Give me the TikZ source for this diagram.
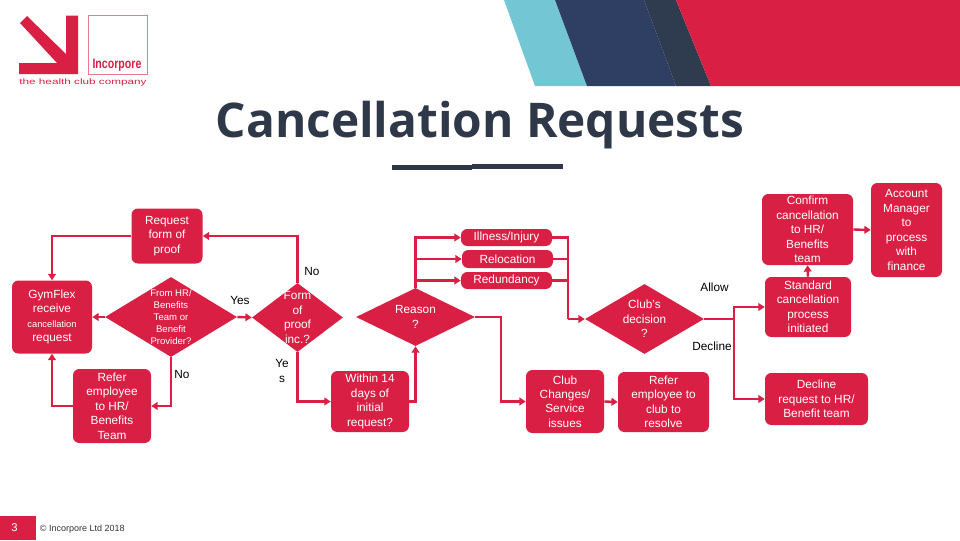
\documentclass[tikz,border=0pt]{standalone}
\usepackage{fontspec}
\setmainfont{Liberation Sans}
\newfontfamily\titlefont{Open Sans}
\usetikzlibrary{arrows.meta,shapes.geometric}
\definecolor{incred}{HTML}{D91F43}
\definecolor{incnavy}{HTML}{2E3F63}
\definecolor{incdark}{HTML}{2F3B4E}
\definecolor{incteal}{HTML}{73C6D4}
\definecolor{inctitle}{HTML}{2F3848}
\tikzset{
  boxnode/.style={draw=none,fill=incred,rounded corners=4.5pt,text=white,align=center,
    font=\fontsize{8.4}{10.3}\selectfont,inner sep=0pt},
  choicenode/.style={diamond,draw=none,fill=incred,text=white,align=center,
    font=\fontsize{8.4}{10.3}\selectfont,inner sep=-14pt,shape aspect=1.7},
  boxsize/.style 2 args={minimum width=#1*0.025cm,minimum height=#2*0.025cm},
  flowline/.style={draw=incred,line width=1.7pt,-{Triangle[length=4.5pt,width=5.5pt]}},
  plainline/.style={draw=incred,line width=1.7pt},
  edgetext/.style={font=\fontsize{8.4}{10.3}\selectfont,align=center,text=black}
}
\begin{document}
\begin{tikzpicture}[x=0.025cm,y=-0.025cm]
  \useasboundingbox (0,0) rectangle (960,540);
  % banner
  \fill[incteal] (504,0) -- (535,86) -- (587,86) -- (555,0) -- cycle;
  \fill[incnavy] (555,0) -- (587,86) -- (676,86) -- (644,0) -- cycle;
  \fill[incdark] (644,0) -- (676,86) -- (711,86) -- (676,0) -- cycle;
  \fill[incred] (676,0) -- (711,86) -- (960,86) -- (960,0) -- cycle;
  % logo
  \fill[incred] (66,15.5) -- (78,15.5) -- (78,74) -- (19,74) -- (19,63) -- (57,63) -- (20,23) -- (27,16) -- (66,54) -- cycle;
  \draw[incred!60,line width=0.5pt] (88.5,15.5) rectangle (147.5,74);
  \node[text=incred,font=\fontsize{9.8}{10}\selectfont\bfseries,xscale=0.77,transform shape] (logoname) at (117,65) {Incorpore};
  \node[text=incred,font=\fontsize{5.6}{6}\selectfont,xscale=1.49,transform shape] (logotag) at (83,82) {the health club company};
  % title
  \node[text=inctitle,font=\titlefont\fontsize{34}{38}\selectfont\bfseries] (title) at (480,125) {Cancellation Requests};
  \fill[inctitle] (392,165) rectangle (472,170);
  \fill[inctitle] (472,164) rectangle (563,169);
  % footer
  \fill[incred] (0,516) rectangle (36,540);
  \node[text=white,font=\fontsize{8}{10}\selectfont] (pagenum) at (14.5,528) {3};
  \node[anchor=west,font=\fontsize{6.4}{8}\selectfont,text=black!80] (copyline) at (35,529) {© Incorpore Ltd 2018};
  % boxes
  \node[boxnode,boxsize={71}{55}] (request) at (167,236) {Request\\form of\\proof};
  \node[boxnode,boxsize={80}{73}] (gymflex) at (52,317) {GymFlex\\receive\\{\fontsize{6.6}{10.3}\selectfont cancellation}\\request};
  \node[choicenode,boxsize={132}{80},font=\fontsize{6.8}{8.5}\selectfont] (fromhr) at (171,317) {From HR/\\Benefits\\Team or\\Benefit\\Provider?};
  \node[boxnode,boxsize={78}{74}] (referhr) at (112,406) {Refer\\employee\\to HR/\\Benefits\\Team};
  \node[choicenode,boxsize={91}{69}] (formproof) at (297.5,317.5) {Form\\of\\proof\\inc.?};
  \node[boxnode,boxsize={78}{61}] (within) at (370,401.5) {Within 14\\days of\\initial\\request?};
  \node[choicenode,boxsize={119}{58}] (reason) at (415.5,317) {Reason\\?};
  \node[boxnode,boxsize={91}{17}] (illness) at (506.5,237.5) {Illness/Injury};
  \node[boxnode,boxsize={91}{18}] (relocation) at (507.5,259) {Relocation};
  \node[boxnode,boxsize={91}{17}] (redundancy) at (506.5,280.5) {Redundancy};
  \node[boxnode,boxsize={78}{63}] (clubissues) at (565,401.5) {Club\\Changes/\\Service\\issues};
  \node[choicenode,boxsize={119}{70}] (decision) at (644.5,319) {Club's\\decision\\?};
  \node[boxnode,boxsize={91}{60}] (referclub) at (663.5,402) {Refer\\employee to\\club to\\resolve};
  \node[boxnode,boxsize={86}{60}] (standard) at (808,307) {Standard\\cancellation\\process\\initiated};
  \node[boxnode,boxsize={91}{71}] (confirm) at (807.5,229.5) {Confirm\\cancellation\\to HR/\\Benefits\\team};
  \node[boxnode,boxsize={71}{94}] (account) at (906.5,230) {Account\\Manager\\to\\process\\with\\finance};
  \node[boxnode,boxsize={103}{52}] (decline) at (816.5,399) {Decline\\request to HR/\\Benefit team};
  % free corners
  \coordinate (split) at (734,319);
  \coordinate (merge) at (568,319);
  \coordinate (reasonturn) at (501,317);
  % connectors
  \draw[flowline] (request.west) -| (gymflex.north);
  \draw[flowline] (formproof.north) |- (request.east);
  \draw[flowline] (fromhr.west) -- (gymflex.east);
  \draw[flowline] (fromhr.east) -- (formproof.west);
  \draw[flowline] (fromhr.south) |- (referhr.east);
  \draw[flowline] (referhr.west) -| (gymflex.south);
  \draw[flowline] (formproof.south) |- (within.west);
  \draw[flowline] (within.east) -| (reason.south);
  \draw[flowline] (reason.north) |- (illness.west);
  \draw[flowline] (reason.north) |- (relocation.west);
  \draw[flowline] (reason.north) |- (redundancy.west);
  \draw[plainline] (illness.east) -| (merge);
  \draw[plainline] (relocation.east) -| (merge);
  \draw[plainline] (redundancy.east) -| (merge);
  \draw[flowline] (merge) -- (decision.west);
  \draw[flowline] (reason.east) -- (reasonturn) |- (clubissues.west);
  \draw[flowline] (clubissues.east) -- (referclub.west);
  \draw[plainline] (decision.east) -- (split);
  \draw[flowline] (split) |- (standard.west);
  \draw[flowline] (split) |- (decline.west);
  \draw[flowline] (standard.north) -- (confirm.south);
  \draw[flowline] (confirm.east) -- (account.west);
  % labels
  \node[edgetext] (labelnoa) at (312,271) {No};
  \node[edgetext] (labelyes) at (240,300.5) {Yes};
  \node[edgetext] (labelnob) at (182,374) {No};
  \node[edgetext] (labelyeb) at (282,371) {Ye\\s};
  \node[edgetext] (labelallow) at (714.5,287.5) {Allow};
  \node[edgetext] (labeldecl) at (712,346.5) {Decline};
\end{tikzpicture}
\end{document}
